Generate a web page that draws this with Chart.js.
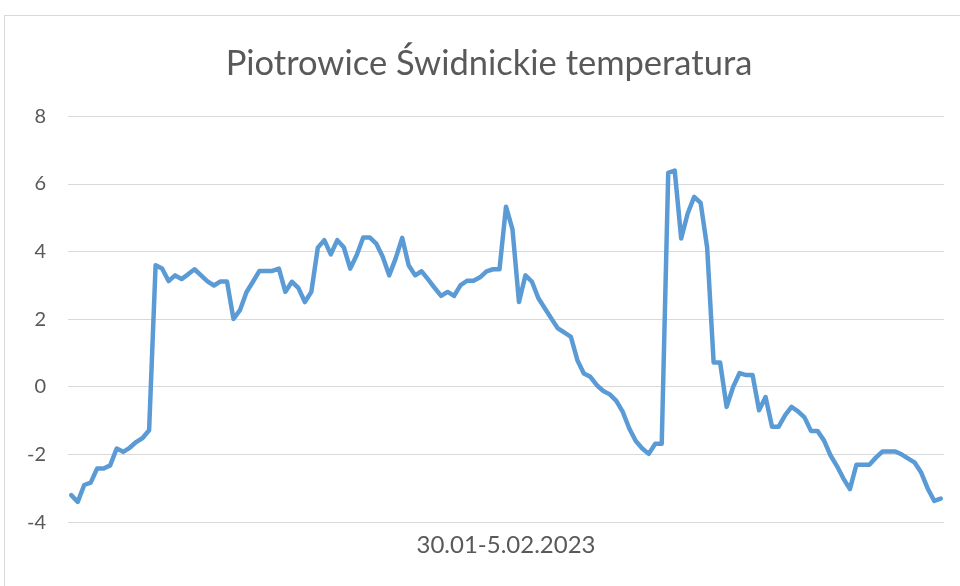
<!DOCTYPE html>
<html>
<head>
<meta charset="utf-8">
<script src="https://cdn.jsdelivr.net/npm/chart.js@4/dist/chart.umd.min.js"></script>
<style>
  html, body { margin: 0; padding: 0; background: #ffffff; }
  body { width: 960px; height: 586px; overflow: hidden; position: relative; }
  #frame { position: absolute; left: 4px; top: 15px; width: 1000px; height: 700px;
           border-left: 1px solid #d9d9d9; border-top: 1px solid #d9d9d9; box-sizing: border-box; }
  #wrap { position: absolute; left: 0; top: 0; width: 960px; height: 586px; }
</style>
</head>
<body>
<div id="frame"></div>
<div id="wrap"><canvas id="c" width="960" height="586"></canvas></div>
<script>
const chartTitle = "Piotrowice Świdnickie temperatura";
const xAxisTitle = "30.01-5.02.2023";
const yTicks = [-4, -2, 0, 2, 4, 6, 8];

// temperature readings (°C)
const temperature = [
  -3.2, -3.4, -2.9, -2.83, -2.41, -2.41, -2.32, -1.82, -1.92, -1.8,
  -1.63, -1.51, -1.28, 3.6, 3.5, 3.13, 3.3, 3.19, 3.33, 3.48,
  3.3, 3.12, 3.0, 3.12, 3.12, 2.01, 2.27, 2.8, 3.11, 3.43,
  3.43, 3.43, 3.5, 2.81, 3.11, 2.93, 2.51, 2.81, 4.12, 4.34,
  3.92, 4.34, 4.13, 3.5, 3.9, 4.42, 4.42, 4.24, 3.85, 3.3,
  3.8, 4.41, 3.6, 3.3, 3.42, 3.18, 2.93, 2.69, 2.81, 2.69,
  3.01, 3.14, 3.14, 3.24, 3.42, 3.48, 3.48, 5.33, 4.66, 2.51,
  3.3, 3.11, 2.62, 2.32, 2.02, 1.73, 1.61, 1.48, 0.79, 0.4,
  0.3, 0.05, -0.12, -0.22, -0.41, -0.74, -1.23, -1.6, -1.82, -1.98,
  -1.68, -1.68, 6.33, 6.4, 4.39, 5.13, 5.62, 5.44, 4.12, 0.72,
  0.72, -0.59, 0.0, 0.41, 0.35, 0.35, -0.69, -0.3, -1.18, -1.18,
  -0.84, -0.59, -0.72, -0.9, -1.3, -1.3, -1.58, -2.02, -2.34, -2.71,
  -3.02, -2.3, -2.3, -2.3, -2.09, -1.91, -1.91, -1.91, -2.0, -2.12,
  -2.24, -2.54, -3.01, -3.37, -3.3
];
// one category per reading (no tick labels are shown on the x axis)
const categories = temperature.map((_, i) => String(i + 1));

const textColor = "#595959";
const gridColor = "#d9d9d9";
const lineColor = "#5b9bd5";
const fontFamily = "Lato, 'Open Sans', sans-serif";

// the original chart frame extends past the right edge, so its title sits a bit right of centre
const titleShift = {
  id: "titleShift",
  afterLayout(chart) {
    if (chart.titleBlock) {
      chart.titleBlock.left = 34;
      chart.titleBlock.right = 944;
    }
  }
};

new Chart(document.getElementById("c"), {
  type: "line",
  data: {
    labels: categories,
    datasets: [{
      label: chartTitle,
      data: temperature,
      borderColor: lineColor,
      borderWidth: 4.5,
      pointRadius: 0,
      tension: 0,
      borderJoinStyle: "round",
      borderCapStyle: "round",
      fill: false
    }]
  },
  plugins: [titleShift],
  options: {
    responsive: false,
    animation: false,
    devicePixelRatio: 1,
    layout: { padding: { left: 8, right: 16, top: 10, bottom: 26 } },
    plugins: {
      legend: { display: false },
      tooltip: { enabled: false },
      title: {
        display: true,
        text: chartTitle,
        color: textColor,
        font: { family: fontFamily, size: 34.5, weight: "normal" },
        padding: { top: 33, bottom: 32 }
      }
    },
    scales: {
      x: {
        type: "category",
        offset: true,
        grid: { display: false, drawTicks: false },
        border: { display: false },
        ticks: { display: false },
        title: {
          display: true,
          text: xAxisTitle,
          color: textColor,
          font: { family: fontFamily, size: 24, weight: "normal" },
          padding: { top: 9, bottom: 0 }
        }
      },
      y: {
        min: -4,
        max: 8,
        afterBuildTicks: (axis) => { axis.ticks = yTicks.map(v => ({ value: v })); },
        afterFit: (axis) => { axis.width = 60; },
        grid: { color: gridColor, lineWidth: 1, drawTicks: false },
        border: { display: false },
        ticks: {
          color: textColor,
          padding: 22,
          font: { family: fontFamily, size: 20 }
        }
      }
    }
  }
});
</script>
</body>
</html>
